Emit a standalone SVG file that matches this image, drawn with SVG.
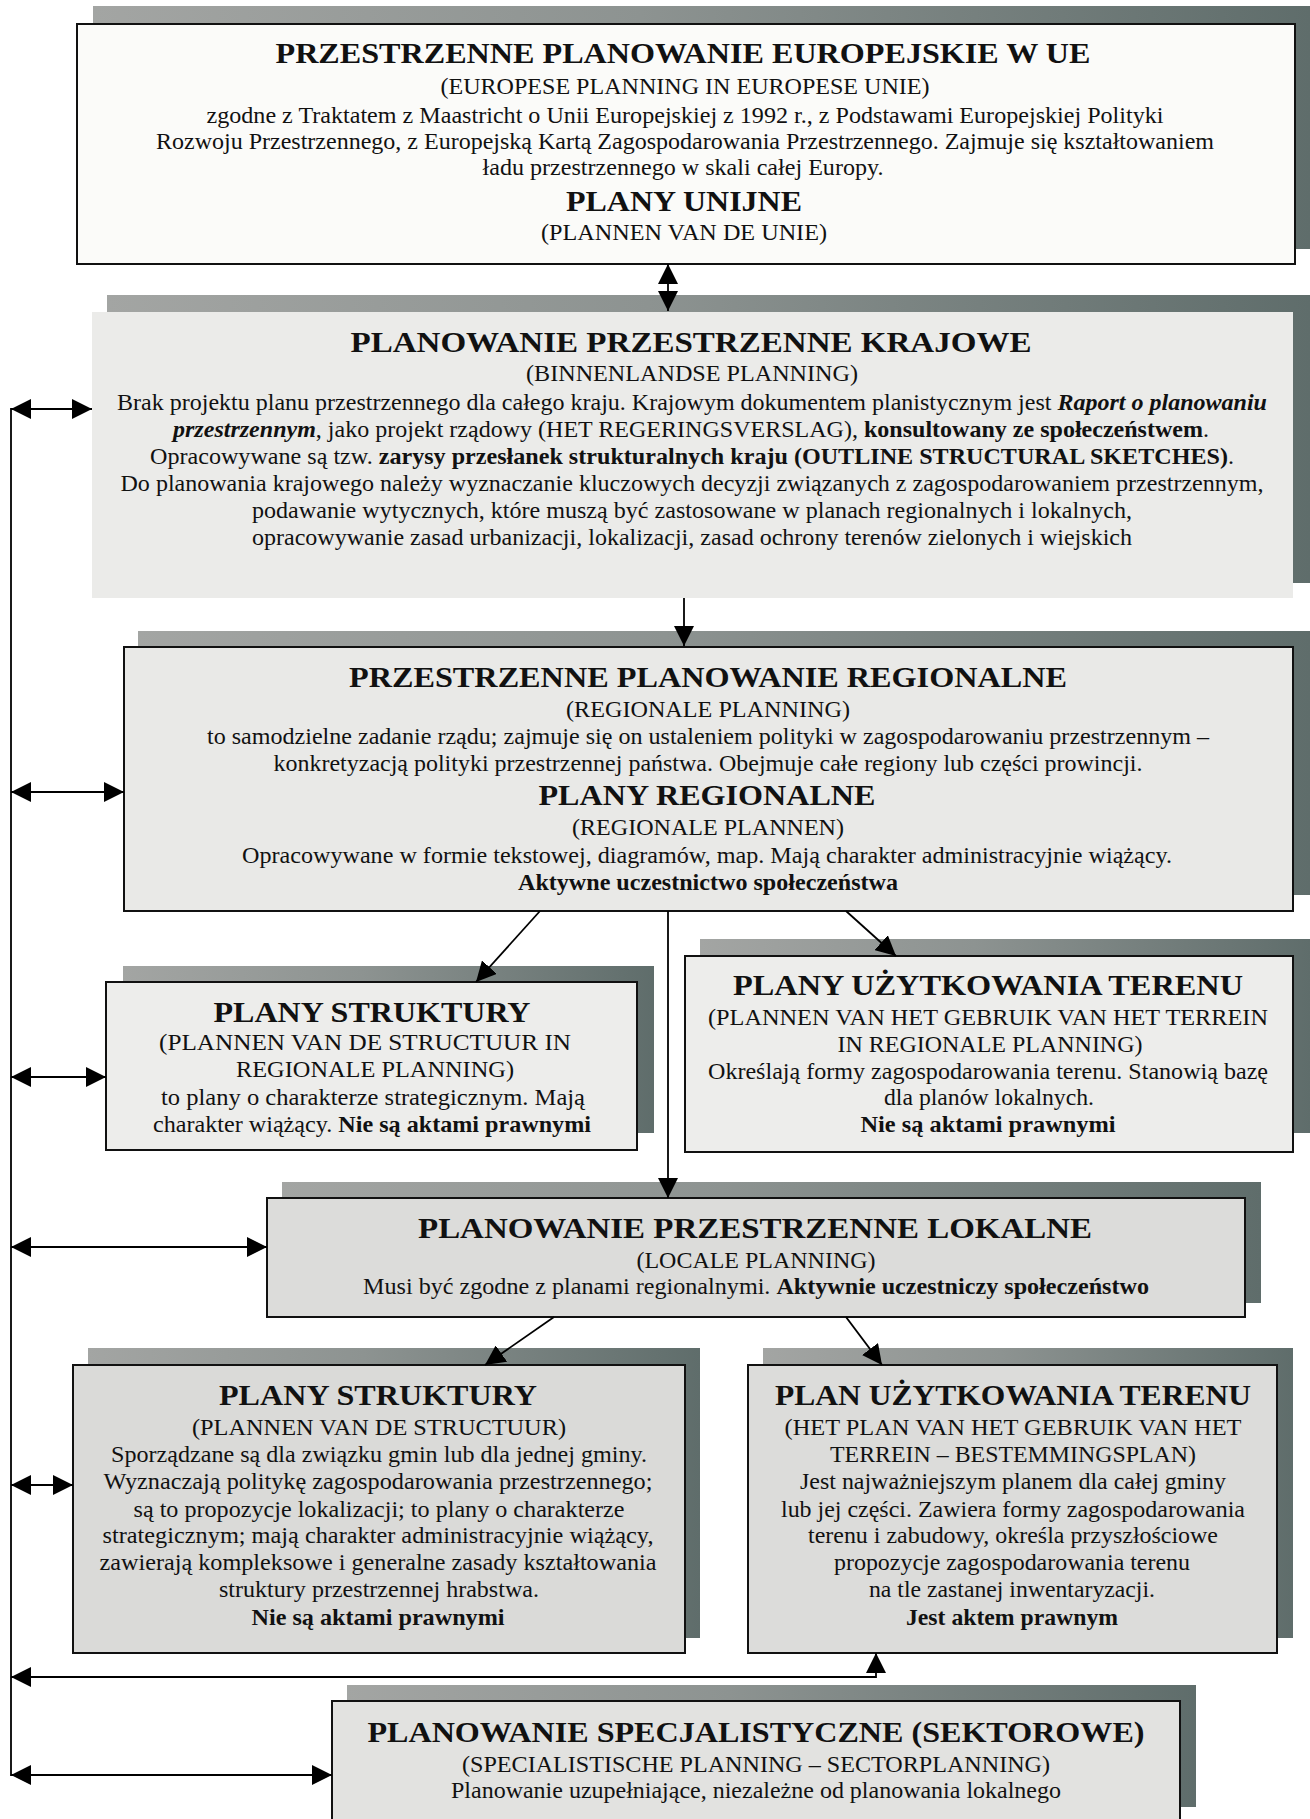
<svg xmlns="http://www.w3.org/2000/svg" width="1310" height="1819" viewBox="0 0 1310 1819">
<defs>
<style>
text{font-family:"Liberation Serif","Times New Roman",serif;fill:#111;text-anchor:middle}
.t{font-size:30px;font-weight:bold}
.b{font-size:22.5px}
.bb{font-weight:bold}
.it{font-style:italic;font-weight:bold}
.shadow{fill:url(#sh)}
.box{stroke:#111;stroke-width:2}
.conn{stroke:#000;stroke-width:1.8;fill:none}
</style>
<linearGradient id="sh" x1="0" y1="0" x2="1" y2="0">
<stop offset="0" stop-color="#a3a5a3"/>
<stop offset="0.45" stop-color="#8d9391"/>
<stop offset="1" stop-color="#5f6d6b"/>
</linearGradient>
<marker id="ah" viewBox="0 0 20 20" refX="20" refY="10" markerWidth="20" markerHeight="20" markerUnits="userSpaceOnUse" orient="auto-start-reverse">
<path d="M0,0 L20,10 L0,20 z" fill="#000"/>
</marker>
</defs>
<rect width="1310" height="1819" fill="#fff"/>

<g id="n-eu">
<rect class="shadow" x="93" y="6" width="1217" height="243"/>
<rect class="box" x="77" y="24" width="1218" height="240" fill="#fbfbf9"/>
<text class="t" x="683" y="63" textLength="815" lengthAdjust="spacingAndGlyphs">PRZESTRZENNE PLANOWANIE EUROPEJSKIE W UE</text>
<text class="b" x="685" y="94" textLength="489" lengthAdjust="spacingAndGlyphs">(EUROPESE PLANNING IN EUROPESE UNIE)</text>
<text class="b" x="685" y="123" textLength="957" lengthAdjust="spacingAndGlyphs">zgodne z Traktatem z Maastricht o Unii Europejskiej z 1992 r., z Podstawami Europejskiej Polityki</text>
<text class="b" x="685" y="149" textLength="1058" lengthAdjust="spacingAndGlyphs">Rozwoju Przestrzennego, z Europejską Kartą Zagospodarowania Przestrzennego. Zajmuje się kształtowaniem</text>
<text class="b" x="683" y="175" textLength="401" lengthAdjust="spacingAndGlyphs">ładu przestrzennego w skali całej Europy.</text>
<text class="t" x="684" y="211" textLength="236" lengthAdjust="spacingAndGlyphs">PLANY UNIJNE</text>
<text class="b" x="684" y="240" textLength="286" lengthAdjust="spacingAndGlyphs">(PLANNEN VAN DE UNIE)</text>
</g>

<g id="n-krajowe">
<rect class="shadow" x="107" y="295" width="1203" height="288"/>
<rect x="92" y="312" width="1201" height="286" fill="#ebebe9"/>
<text class="t" x="691" y="352" textLength="681" lengthAdjust="spacingAndGlyphs">PLANOWANIE PRZESTRZENNE KRAJOWE</text>
<text class="b" x="692" y="381" textLength="332" lengthAdjust="spacingAndGlyphs">(BINNENLANDSE PLANNING)</text>
<text class="b" x="692" y="410" textLength="1150" lengthAdjust="spacingAndGlyphs">Brak projektu planu przestrzennego dla całego kraju. Krajowym dokumentem planistycznym jest <tspan class="it">Raport o planowaniu</tspan></text>
<text class="b" x="691" y="437" textLength="1036" lengthAdjust="spacingAndGlyphs"><tspan class="it">przestrzennym</tspan>, jako projekt rządowy (HET REGERINGSVERSLAG), <tspan class="bb">konsultowany ze społeczeństwem</tspan>.</text>
<text class="b" x="692" y="464" textLength="1084" lengthAdjust="spacingAndGlyphs">Opracowywane są tzw. <tspan class="bb">zarysy przesłanek strukturalnych kraju (OUTLINE STRUCTURAL SKETCHES)</tspan>.</text>
<text class="b" x="692" y="491" textLength="1143" lengthAdjust="spacingAndGlyphs">Do planowania krajowego należy wyznaczanie kluczowych decyzji związanych z zagospodarowaniem przestrzennym,</text>
<text class="b" x="692" y="518" textLength="880" lengthAdjust="spacingAndGlyphs">podawanie wytycznych, które muszą być zastosowane w planach regionalnych i lokalnych,</text>
<text class="b" x="692" y="545" textLength="880" lengthAdjust="spacingAndGlyphs">opracowywanie zasad urbanizacji, lokalizacji, zasad ochrony terenów zielonych i wiejskich</text>
</g>

<g id="n-regionalne">
<rect class="shadow" x="138" y="631" width="1172" height="264"/>
<rect class="box" x="124" y="647" width="1169" height="264" fill="#e9e9e7"/>
<text class="t" x="708" y="687" textLength="718" lengthAdjust="spacingAndGlyphs">PRZESTRZENNE PLANOWANIE REGIONALNE</text>
<text class="b" x="708" y="717" textLength="284" lengthAdjust="spacingAndGlyphs">(REGIONALE PLANNING)</text>
<text class="b" x="708" y="744" textLength="1002" lengthAdjust="spacingAndGlyphs">to samodzielne zadanie rządu; zajmuje się on ustaleniem polityki w zagospodarowaniu przestrzennym –</text>
<text class="b" x="708" y="771" textLength="869" lengthAdjust="spacingAndGlyphs">konkretyzacją polityki przestrzennej państwa. Obejmuje całe regiony lub części prowincji.</text>
<text class="t" x="707" y="805" textLength="337" lengthAdjust="spacingAndGlyphs">PLANY REGIONALNE</text>
<text class="b" x="708" y="835" textLength="272" lengthAdjust="spacingAndGlyphs">(REGIONALE PLANNEN)</text>
<text class="b" x="707" y="863" textLength="930" lengthAdjust="spacingAndGlyphs">Opracowywane w formie tekstowej, diagramów, map. Mają charakter administracyjnie wiążący.</text>
<text class="b bb" x="708" y="890" textLength="380" lengthAdjust="spacingAndGlyphs">Aktywne uczestnictwo społeczeństwa</text>
</g>

<g id="n-struktury-reg">
<rect class="shadow" x="123" y="966" width="531" height="167"/>
<rect class="box" x="106" y="982" width="531" height="168" fill="#ededeb"/>
<text class="t" x="372" y="1022" textLength="317" lengthAdjust="spacingAndGlyphs">PLANY STRUKTURY</text>
<text class="b" x="365" y="1050" textLength="412" lengthAdjust="spacingAndGlyphs">(PLANNEN VAN DE STRUCTUUR IN</text>
<text class="b" x="375" y="1077" textLength="278" lengthAdjust="spacingAndGlyphs">REGIONALE PLANNING)</text>
<text class="b" x="373" y="1105" textLength="424" lengthAdjust="spacingAndGlyphs">to plany o charakterze strategicznym. Mają</text>
<text class="b" x="372" y="1132" textLength="438" lengthAdjust="spacingAndGlyphs">charakter wiążący. <tspan class="bb">Nie są aktami prawnymi</tspan></text>
</g>

<g id="n-uzytkowania-reg">
<rect class="shadow" x="700" y="939" width="610" height="194"/>
<rect class="box" x="685" y="956" width="608" height="196" fill="#ededeb"/>
<text class="t" x="988" y="995" textLength="510" lengthAdjust="spacingAndGlyphs">PLANY UŻYTKOWANIA TERENU</text>
<text class="b" x="988" y="1025" textLength="560" lengthAdjust="spacingAndGlyphs">(PLANNEN VAN HET GEBRUIK VAN HET TERREIN</text>
<text class="b" x="990" y="1052" textLength="305" lengthAdjust="spacingAndGlyphs">IN REGIONALE PLANNING)</text>
<text class="b" x="988" y="1079" textLength="560" lengthAdjust="spacingAndGlyphs">Określają formy zagospodarowania terenu. Stanowią bazę</text>
<text class="b" x="989" y="1105" textLength="210" lengthAdjust="spacingAndGlyphs">dla planów lokalnych.</text>
<text class="b bb" x="988" y="1132" textLength="255" lengthAdjust="spacingAndGlyphs">Nie są aktami prawnymi</text>
</g>

<g id="n-lokalne">
<rect class="shadow" x="282" y="1182" width="979" height="121"/>
<rect class="box" x="267" y="1198" width="978" height="119" fill="#dcdcda"/>
<text class="t" x="755" y="1238" textLength="674" lengthAdjust="spacingAndGlyphs">PLANOWANIE PRZESTRZENNE LOKALNE</text>
<text class="b" x="756" y="1268" textLength="239" lengthAdjust="spacingAndGlyphs">(LOCALE PLANNING)</text>
<text class="b" x="756" y="1294" textLength="786" lengthAdjust="spacingAndGlyphs">Musi być zgodne z planami regionalnymi. <tspan class="bb">Aktywnie uczestniczy społeczeństwo</tspan></text>
</g>

<g id="n-struktury-lok">
<rect class="shadow" x="88" y="1348" width="612" height="290"/>
<rect class="box" x="73" y="1365" width="612" height="288" fill="#dadad8"/>
<text class="t" x="378" y="1405" textLength="318" lengthAdjust="spacingAndGlyphs">PLANY STRUKTURY</text>
<text class="b" x="379" y="1435" textLength="374" lengthAdjust="spacingAndGlyphs">(PLANNEN VAN DE STRUCTUUR)</text>
<text class="b" x="379" y="1462" textLength="536" lengthAdjust="spacingAndGlyphs">Sporządzane są dla związku gmin lub dla jednej gminy.</text>
<text class="b" x="378" y="1489" textLength="549" lengthAdjust="spacingAndGlyphs">Wyznaczają politykę zagospodarowania przestrzennego;</text>
<text class="b" x="379" y="1517" textLength="491" lengthAdjust="spacingAndGlyphs">są to propozycje lokalizacji; to plany o charakterze</text>
<text class="b" x="378" y="1543" textLength="551" lengthAdjust="spacingAndGlyphs">strategicznym; mają charakter administracyjnie wiążący,</text>
<text class="b" x="378" y="1570" textLength="557" lengthAdjust="spacingAndGlyphs">zawierają kompleksowe i generalne zasady kształtowania</text>
<text class="b" x="379" y="1597" textLength="320" lengthAdjust="spacingAndGlyphs">struktury przestrzennej hrabstwa.</text>
<text class="b bb" x="378" y="1625" textLength="253" lengthAdjust="spacingAndGlyphs">Nie są aktami prawnymi</text>
</g>

<g id="n-uzytkowania-lok">
<rect class="shadow" x="763" y="1348" width="530" height="290"/>
<rect class="box" x="748" y="1365" width="529" height="288" fill="#dcdcda"/>
<text class="t" x="1013" y="1405" textLength="476" lengthAdjust="spacingAndGlyphs">PLAN UŻYTKOWANIA TERENU</text>
<text class="b" x="1013" y="1435" textLength="457" lengthAdjust="spacingAndGlyphs">(HET PLAN VAN HET GEBRUIK VAN HET</text>
<text class="b" x="1013" y="1462" textLength="366" lengthAdjust="spacingAndGlyphs">TERREIN – BESTEMMINGSPLAN)</text>
<text class="b" x="1013" y="1489" textLength="426" lengthAdjust="spacingAndGlyphs">Jest najważniejszym planem dla całej gminy</text>
<text class="b" x="1013" y="1517" textLength="464" lengthAdjust="spacingAndGlyphs">lub jej części. Zawiera formy zagospodarowania</text>
<text class="b" x="1013" y="1543" textLength="410" lengthAdjust="spacingAndGlyphs">terenu i zabudowy, określa przyszłościowe</text>
<text class="b" x="1012" y="1570" textLength="356" lengthAdjust="spacingAndGlyphs">propozycje zagospodarowania terenu</text>
<text class="b" x="1012" y="1597" textLength="286" lengthAdjust="spacingAndGlyphs">na tle zastanej inwentaryzacji.</text>
<text class="b bb" x="1012" y="1625" textLength="212" lengthAdjust="spacingAndGlyphs">Jest aktem prawnym</text>
</g>

<g id="n-sektorowe">
<rect class="shadow" x="347" y="1685" width="849" height="122"/>
<rect class="box" x="332" y="1701" width="848" height="130" fill="#e2e2e0"/>
<text class="t" x="756" y="1742" textLength="777" lengthAdjust="spacingAndGlyphs">PLANOWANIE SPECJALISTYCZNE (SEKTOROWE)</text>
<text class="b" x="756" y="1772" textLength="588" lengthAdjust="spacingAndGlyphs">(SPECIALISTISCHE PLANNING – SECTORPLANNING)</text>
<text class="b" x="756" y="1798" textLength="610" lengthAdjust="spacingAndGlyphs">Planowanie uzupełniające, niezależne od planowania lokalnego</text>
</g>

<g id="connectors">
<line class="conn" x1="668" y1="264" x2="668" y2="311" marker-start="url(#ah)" marker-end="url(#ah)"/>
<line class="conn" x1="684" y1="598" x2="684" y2="646" marker-end="url(#ah)"/>
<line class="conn" x1="540" y1="911" x2="476" y2="982" marker-end="url(#ah)"/>
<line class="conn" x1="668" y1="911" x2="668" y2="1198" marker-end="url(#ah)"/>
<line class="conn" x1="846" y1="911" x2="896" y2="956" marker-end="url(#ah)"/>
<line class="conn" x1="554" y1="1317" x2="485" y2="1365" marker-end="url(#ah)"/>
<line class="conn" x1="846" y1="1317" x2="882" y2="1365" marker-end="url(#ah)"/>
<line class="conn" x1="11" y1="408" x2="11" y2="1776"/>
<line class="conn" x1="11" y1="409" x2="92" y2="409" marker-start="url(#ah)" marker-end="url(#ah)"/>
<line class="conn" x1="11" y1="792" x2="124" y2="792" marker-start="url(#ah)" marker-end="url(#ah)"/>
<line class="conn" x1="11" y1="1077" x2="106" y2="1077" marker-start="url(#ah)" marker-end="url(#ah)"/>
<line class="conn" x1="11" y1="1247" x2="267" y2="1247" marker-start="url(#ah)" marker-end="url(#ah)"/>
<line class="conn" x1="11" y1="1485" x2="73" y2="1485" marker-start="url(#ah)" marker-end="url(#ah)"/>
<line class="conn" x1="11" y1="1775" x2="332" y2="1775" marker-start="url(#ah)" marker-end="url(#ah)"/>
<polyline class="conn" points="11,1677 876,1677 876,1653" marker-start="url(#ah)" marker-end="url(#ah)"/>
</g>
</svg>
